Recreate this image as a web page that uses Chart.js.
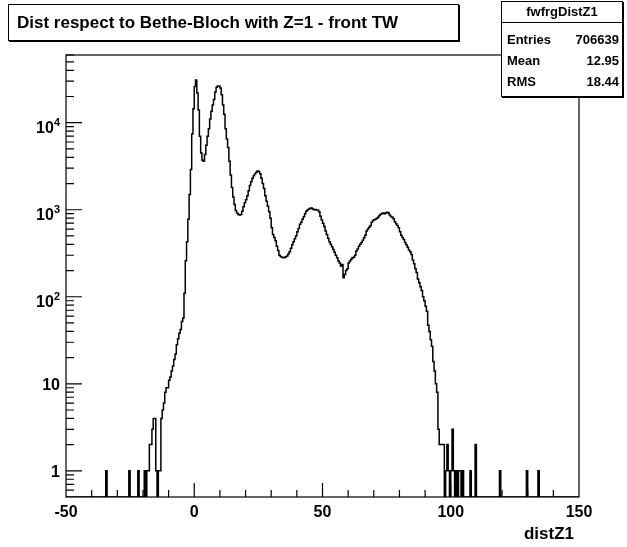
<!DOCTYPE html>
<html>
<head>
<meta charset="utf-8">
<script src="https://cdn.jsdelivr.net/npm/chart.js@4.4.0/dist/chart.umd.min.js"></script>
<style>
  body { margin: 0; background: #fff; }
  #wrap { position: relative; width: 627px; height: 547px; font-family: "Liberation Sans", Arial, Helvetica, sans-serif; font-weight: bold; color: #000; }
  #c { position: absolute; left: 0; top: 0; }
  .pave { position: absolute; background: #fff; border: 1px solid #000; box-shadow: 1px 1px 0 #000; box-sizing: border-box; }
  #title { left: 8px; top: 4px; width: 451px; height: 37px; font-size: 17px; line-height: 35px; padding-left: 8px; white-space: nowrap; }
  #stats { left: 501px; top: 1px; width: 122px; height: 96px; font-size: 13px; }
  #stats .hd { text-align: center; font-size: 13px; height: 20px; line-height: 20px; border-bottom: 1px solid #000; }
  #stats .row { position: absolute; left: 5px; right: 3px; height: 16px; line-height: 16px; display: flex; justify-content: space-between; }
  #xlabel { position: absolute; right: 53px; top: 525px; font-size: 17px; line-height: 17px; }
</style>
</head>
<body>
<div id="wrap">
  <canvas id="c" width="627" height="547"></canvas>
  <div class="pave" id="title">Dist respect to Bethe-Bloch with Z=1 - front TW</div>
  <div class="pave" id="stats">
    <div class="hd">fwfrgDistZ1</div>
    <div class="row" style="top:30px"><span>Entries</span><span>706639</span></div>
    <div class="row" style="top:51px"><span>Mean</span><span>12.95</span></div>
    <div class="row" style="top:72px"><span>RMS</span><span>18.44</span></div>
  </div>
  <div id="xlabel">distZ1</div>
</div>
<script>
// histogram binning (200 units, 0.5 wide bins)
const binLow = -50;
const binHigh = 150;
const binWidth = 0.5;
const yMin = 0.5;
const yMax = 60000;

// main body of the histogram, bins from -17.5 upward
const bodyStart = -17.5;
const bodyCounts = [
    2, 2, 3, 4, 4, 1, 0, 1, 1, 4,
    5, 6, 8, 9, 9, 11, 12, 14, 16, 19,
    22, 28, 33, 38, 42, 52, 57, 110, 260, 430,
    780, 1500, 2900, 7400, 14500, 26000, 31000, 22000, 14000, 7000,
    4500, 3700, 3600, 4300, 5500, 7000, 8500, 11000, 13500, 16000,
    18500, 22500, 25500, 26500, 26500, 25000, 21000, 16000, 12500, 8500,
    6500, 5200, 3600, 2500, 1800, 1400, 1150, 980, 920, 880,
    870, 880, 960, 1080, 1200, 1300, 1450, 1650, 1900, 2100,
    2300, 2450, 2600, 2700, 2780, 2750, 2600, 2300, 2000, 1750,
    1450, 1250, 1100, 950, 800, 620, 520, 480, 440, 380,
    340, 300, 290, 285, 280, 282, 288, 295, 310, 330,
    360, 395, 430, 465, 500, 560, 610, 680, 720, 780,
    830, 900, 960, 990, 1020, 1040, 1045, 1020, 1000, 1005,
    995, 990, 950, 840, 760, 700, 640, 570, 520, 470,
    430, 400, 375, 350, 325, 300, 280, 258, 245, 225,
    235, 165, 180, 200, 210, 245, 258, 270, 280, 285,
    300, 335, 355, 380, 400, 420, 445, 475, 510, 570,
    600, 630, 660, 720, 750, 765, 775, 800, 820, 860,
    890, 905, 915, 900, 920, 935, 920, 870, 835, 820,
    790, 730, 690, 660, 620, 560, 510, 480, 455, 420,
    395, 370, 345, 330, 305, 265, 240, 210, 190, 160,
    145, 130, 118, 100, 90, 78, 68, 47, 40, 32,
    27, 18, 14, 10, 8, 3, 2, 2, 2, 2
];

// isolated entries in the tails (bin lower edge, count)
const leftTailEdges = [-34.5, -25.5, -22.0, -19.5, -18.5, -18.0];
const leftTailCounts = [1, 1, 1, 1, 1, 1];
const rightTailEdges = [98.0, 98.5, 99.0, 100.0, 100.5, 101.0, 102.0, 103.0, 103.5, 104.5, 107.5, 109.5, 119.0, 129.5, 134.0];
const rightTailCounts = [1, 2, 1, 1, 3, 1, 1, 1, 1, 1, 1, 2, 1, 1, 1];

// axis labels
const xTickValues = [-50, 0, 50, 100, 150];
const yTickValues = [1, 10, 100, 1000, 10000];
const yTickBase = ['1', '10', '10', '10', '10'];
const yTickExp = ['', '', '2', '3', '4'];

const nBins = Math.round((binHigh - binLow) / binWidth);
const counts = new Array(nBins).fill(0);
const setBin = (edge, c) => { counts[Math.round((edge - binLow) / binWidth)] = c; };
bodyCounts.forEach((c, i) => setBin(bodyStart + i * binWidth, c));
leftTailEdges.forEach((e, i) => setBin(e, leftTailCounts[i]));
rightTailEdges.forEach((e, i) => setBin(e, rightTailCounts[i]));

// empty bins sit on the bottom of the log axis, like ROOT does
const points = counts.map((c, i) => ({ x: binLow + i * binWidth, y: c > 0 ? c : yMin }));
points.push({ x: binHigh, y: yMin });

const fontFam = '"Liberation Sans", Arial, sans-serif';

// ROOT style frame, inward ticks and labels with superscript exponents
const rootAxes = {
    id: 'rootAxes',
    afterDatasetsDraw(chart) {
        const { ctx, chartArea: a, scales: { x, y } } = chart;
        ctx.save();
        ctx.strokeStyle = '#000';
        ctx.lineWidth = 1.2;
        ctx.strokeRect(a.left, a.top, a.right - a.left, a.bottom - a.top);
        ctx.beginPath();
        for (let v = -40; v < 150; v += 10) {
            const px = x.getPixelForValue(v);
            const len = v % 50 === 0 ? 14 : 7;
            ctx.moveTo(px, a.bottom);
            ctx.lineTo(px, a.bottom - len);
        }
        for (let e = -1; e <= 4; e++) {
            for (let m = 1; m <= 9; m++) {
                const v = m * Math.pow(10, e);
                if (v <= yMin + 1e-9 || v > yMax) continue;
                const py = y.getPixelForValue(v);
                const len = m === 1 ? 16 : 8;
                ctx.moveTo(a.left, py);
                ctx.lineTo(a.left + len, py);
            }
        }
        ctx.stroke();

        ctx.fillStyle = '#000';
        ctx.textBaseline = 'alphabetic';
        ctx.textAlign = 'center';
        ctx.font = 'bold 16px ' + fontFam;
        x.ticks.forEach(t => {
            ctx.fillText(String(t.value), x.getPixelForValue(t.value), a.bottom + 20);
        });

        ctx.textAlign = 'right';
        yTickValues.forEach((v, i) => {
            const py = y.getPixelForValue(v);
            const right = a.left - 6;
            if (yTickExp[i]) {
                ctx.font = 'bold 11px ' + fontFam;
                ctx.fillText(yTickExp[i], right, py + 3);
                const w = ctx.measureText(yTickExp[i]).width;
                ctx.font = 'bold 16px ' + fontFam;
                ctx.fillText(yTickBase[i], right - w, py + 10);
            } else {
                ctx.font = 'bold 16px ' + fontFam;
                ctx.fillText(yTickBase[i], right, py + 6);
            }
        });
        ctx.restore();
    }
};

const ctx = document.getElementById('c').getContext('2d');
new Chart(ctx, {
    type: 'line',
    data: {
        datasets: [{
            data: points,
            stepped: true,
            borderColor: '#000',
            borderWidth: 1.5,
            pointRadius: 0,
            fill: false
        }]
    },
    options: {
        responsive: false,
        animation: false,
        devicePixelRatio: 1,
        layout: { padding: { top: 55, right: 48, left: 0, bottom: 0 } },
        plugins: {
            legend: { display: false },
            tooltip: { enabled: false }
        },
        scales: {
            x: {
                type: 'linear',
                min: binLow,
                max: binHigh,
                afterFit: s => { s.height = 50; },
                afterBuildTicks: s => { s.ticks = xTickValues.map(v => ({ value: v })); },
                grid: { display: false },
                border: { display: false },
                ticks: { display: false }
            },
            y: {
                type: 'logarithmic',
                min: yMin,
                max: yMax,
                afterFit: s => { s.width = 66; },
                afterBuildTicks: s => { s.ticks = yTickValues.map(v => ({ value: v })); },
                grid: { display: false },
                border: { display: false },
                ticks: { display: false }
            }
        }
    },
    plugins: [rootAxes]
});
</script>
</body>
</html>
